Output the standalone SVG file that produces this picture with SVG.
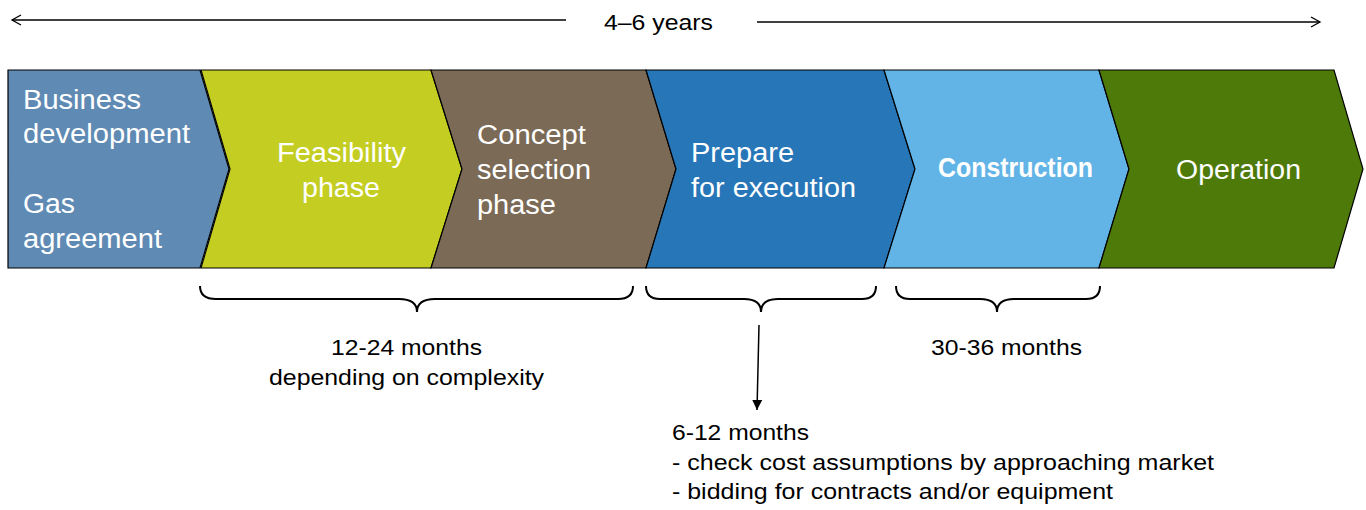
<svg xmlns="http://www.w3.org/2000/svg" width="1366" height="510" viewBox="0 0 1366 510">
<style>
.chev{stroke:#000;stroke-width:1.2}
.w{fill:#fff;font-family:"Liberation Sans",Arial,sans-serif;font-size:27px}
.k{fill:#000;font-family:"Liberation Sans",Arial,sans-serif;font-size:22px}
.ln{fill:none;stroke:#000;stroke-width:1.5}
.br{fill:none;stroke:#000;stroke-width:2}
</style>
<defs>
<marker id="open" markerWidth="12" markerHeight="12" refX="10" refY="6" orient="auto" markerUnits="userSpaceOnUse">
<path d="M1,1 L10,6 L1,11" fill="none" stroke="#000" stroke-width="1.3"/>
</marker>
<marker id="fill" markerWidth="12" markerHeight="12" refX="10" refY="6" orient="auto" markerUnits="userSpaceOnUse">
<path d="M0,1 L10,6 L0,11 Z" fill="#000"/>
</marker>
</defs>
<rect width="1366" height="510" fill="#fff"/>
<g id="connectors">
<line class="ln" x1="566" y1="20" x2="12" y2="20" marker-end="url(#open)"/>
<line class="ln" x1="757" y1="22" x2="1320" y2="22" marker-end="url(#open)"/>
<path class="br" d="M200,286 Q200,299 216,299 L399,299 Q417,299 417,312 Q417,299 435,299 L618,299 Q633,299 633,286"/>
<path class="br" d="M646,286 Q646,299 660,299 L744,299 Q761,299 761,312 Q761,299 778,299 L862,299 Q876,299 876,286"/>
<path class="br" d="M896,286 Q896,299 910,299 L980,299 Q997,299 997,312 Q997,299 1014,299 L1086,299 Q1100,299 1100,286"/>
<line class="ln" x1="759" y1="325" x2="757" y2="410" marker-end="url(#fill)"/>
</g>
<text class="k" x="604" y="30" textLength="109" lengthAdjust="spacingAndGlyphs">4–6 years</text>
<g id="business">
<path class="chev" fill="#5E8AB4" d="M8,70 L200,70 L229,169 L200,268 L8,268 Z"/>
<text class="w" x="23" y="109" textLength="118" lengthAdjust="spacingAndGlyphs">Business</text>
<text class="w" x="23" y="143" textLength="167" lengthAdjust="spacingAndGlyphs">development</text>
<text class="w" x="23" y="213" textLength="52" lengthAdjust="spacingAndGlyphs">Gas</text>
<text class="w" x="23" y="248" textLength="139" lengthAdjust="spacingAndGlyphs">agreement</text>
</g>
<g id="feasibility">
<path class="chev" fill="#C4CD22" d="M201,70 L431,70 L462,169 L431,268 L201,268 L230,169 Z"/>
<text class="w" x="277" y="162" textLength="129" lengthAdjust="spacingAndGlyphs">Feasibility</text>
<text class="w" x="302" y="197" textLength="78" lengthAdjust="spacingAndGlyphs">phase</text>
</g>
<g id="concept">
<path class="chev" fill="#7B6A56" d="M431,70 L646,70 L676,169 L646,268 L431,268 L462,169 Z"/>
<text class="w" x="477" y="144" textLength="109" lengthAdjust="spacingAndGlyphs">Concept</text>
<text class="w" x="477" y="179" textLength="114" lengthAdjust="spacingAndGlyphs">selection</text>
<text class="w" x="477" y="214" textLength="79" lengthAdjust="spacingAndGlyphs">phase</text>
</g>
<g id="prepare">
<path class="chev" fill="#2776B8" d="M646,70 L884,70 L915,169 L884,268 L646,268 L676,169 Z"/>
<text class="w" x="691" y="162" textLength="103" lengthAdjust="spacingAndGlyphs">Prepare</text>
<text class="w" x="691" y="197" textLength="165" lengthAdjust="spacingAndGlyphs">for execution</text>
</g>
<g id="construction">
<path class="chev" fill="#63B4E6" d="M884,70 L1099,70 L1129,169 L1099,268 L884,268 L915,169 Z"/>
<text class="w" x="938" y="177" font-weight="bold" font-size="21" textLength="155" lengthAdjust="spacingAndGlyphs">Construction</text>
</g>
<g id="operation">
<path class="chev" fill="#4E7A0A" d="M1099,70 L1334,70 L1363,169 L1334,268 L1099,268 L1129,169 Z"/>
<text class="w" x="1176" y="179" textLength="125" lengthAdjust="spacingAndGlyphs">Operation</text>
</g>
<g id="labels">
<text class="k" x="331" y="355" textLength="151" lengthAdjust="spacingAndGlyphs">12-24 months</text>
<text class="k" x="269" y="385" textLength="275" lengthAdjust="spacingAndGlyphs">depending on complexity</text>
<text class="k" x="931" y="355" textLength="151" lengthAdjust="spacingAndGlyphs">30-36 months</text>
<text class="k" x="672" y="440" textLength="137" lengthAdjust="spacingAndGlyphs">6-12 months</text>
<text class="k" x="672" y="470" textLength="542" lengthAdjust="spacingAndGlyphs">- check cost assumptions by approaching market</text>
<text class="k" x="672" y="499" textLength="441" lengthAdjust="spacingAndGlyphs">- bidding for contracts and/or equipment</text>
</g>
</svg>
